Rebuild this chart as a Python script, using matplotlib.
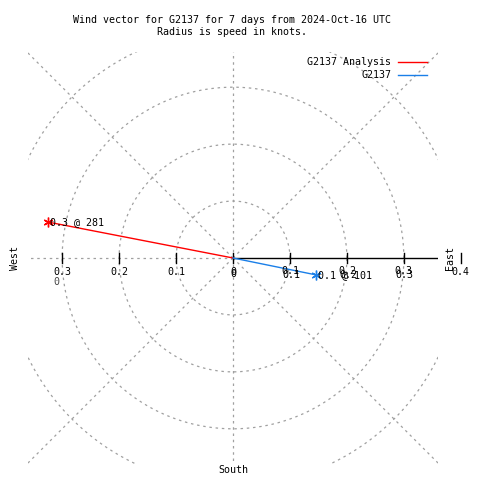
import numpy as np
import matplotlib
matplotlib.use('Agg')
import matplotlib.pyplot as plt

# wind vectors (speed in knots, direction in compass degrees)
names = ['G2137 Analysis', 'G2137']
speeds = [0.331, 0.149]
directions = [281, 101.5]
point_labels = ['0.3 @ 281', '0.1 @ 101']
colors = ['#ff0000', '#1a7fe8']

rings = [0.1, 0.2, 0.3, 0.4]
tick_vals = [0.1, 0.2, 0.3]
spokes = [0, 45, 90, 135, 180, 225, 270, 315]

title = 'Wind vector for G2137 for 7 days from 2024-Oct-16 UTC\nRadius is speed in knots.'

plt.rcParams['font.family'] = ['DejaVu Sans Mono']
fs = 7.2
grid_col = '#a0a0a0'

fig = plt.figure(figsize=(4.8, 4.8), dpi=100)
ax = fig.add_axes([28 / 480, 16 / 480, 410 / 480, 412 / 480])
ax.set_xlim(-0.36, 0.36)
ax.set_ylim(-0.3618, 0.3618)
ax.axis('off')


def pt(px):
    # pixels -> points for offsets
    return px * 72 / 100


# grid circles
th = np.linspace(0, 2 * np.pi, 400)
for r in rings:
    ax.plot(r * np.cos(th), r * np.sin(th), color=grid_col, lw=0.9, ls=(0, (2, 3)))
# spokes (east one is the solid axis)
for a in spokes:
    if a == 90:
        continue
    t = np.radians(a)
    ax.plot([0, 0.6 * np.sin(t)], [0, 0.6 * np.cos(t)], color=grid_col, lw=0.9, ls=(0, (2, 3)))
ax.plot([0, 0.36], [0, 0], color='black', lw=1.0)

# tick marks
for v in [-0.3, -0.2, -0.1, 0, 0.1, 0.2, 0.3, 0.4]:
    ax.plot([v, v], [-0.008, 0.008], color='black', lw=1.0, clip_on=False)

# tick labels, left side and doubled right side
for v in tick_vals:
    ax.annotate(f'{v:g}', (-v, 0), xytext=(0, pt(-14)), textcoords='offset points',
                ha='center', va='center', fontsize=fs)
    ax.annotate(f'{v:g}', (v, 0), xytext=(0, pt(-13)), textcoords='offset points',
                ha='center', va='center', fontsize=fs)
    ax.annotate(f'{v:g}', (v, 0), xytext=(pt(1), pt(-17)), textcoords='offset points',
                ha='center', va='center', fontsize=fs)
ax.annotate('0', (0, 0), xytext=(0, pt(-14)), textcoords='offset points',
            ha='center', va='center', fontsize=fs)
ax.annotate('0', (0, 0), xytext=(0, pt(-16)), textcoords='offset points',
            ha='center', va='center', fontsize=fs)
ax.annotate('0.4', (0.4, 0), xytext=(0, pt(-14)), textcoords='offset points',
            ha='center', va='center', fontsize=fs, annotation_clip=False)
ax.annotate('0', (-0.31, 0), xytext=(0, pt(-24)), textcoords='offset points',
            ha='center', va='center', fontsize=fs, color='#444444')

# compass labels
fig.text(15 / 480, 1 - 258 / 480, 'West', rotation=90, ha='center', va='center', fontsize=fs)
fig.text(450 / 480, 1 - 258 / 480, 'East', rotation=90, ha='center', va='center', fontsize=fs)
fig.text(233 / 480, 1 - 470 / 480, 'South', ha='center', va='center', fontsize=fs)

# vectors
for name, s, d, lab, c in zip(names, speeds, directions, point_labels, colors):
    t = np.radians(d)
    x, y = s * np.sin(t), s * np.cos(t)
    ax.plot([0, x], [0, y], color=c, lw=1.0)
    ax.plot([x], [y], marker=(6, 2, 0), color=c, ms=7, mew=1.0)
    ax.annotate(lab, (x, y), xytext=(pt(2), 0), textcoords='offset points',
                ha='left', va='center', fontsize=fs)

# legend
for i, (name, c) in enumerate(zip(names, colors)):
    yy = 1 - (62 + 13 * i) / 480
    fig.text(391 / 480, yy, name, ha='right', va='center', fontsize=fs)
    fig.add_artist(plt.Line2D([398 / 480, 427 / 480], [yy, yy], color=c, lw=1.0,
                              transform=fig.transFigure))

fig.text(232 / 480, 1 - 26 / 480, title, ha='center', va='center', fontsize=fs,
         linespacing=1.15)

fig.savefig('out.png', dpi=100)
